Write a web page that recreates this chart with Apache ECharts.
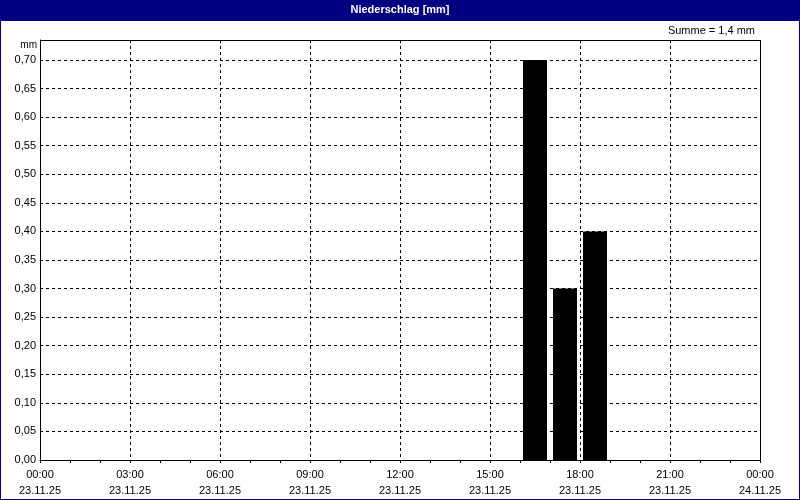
<!DOCTYPE html>
<html>
<head>
<meta charset="utf-8">
<script src="https://cdn.jsdelivr.net/npm/echarts@6/dist/echarts.min.js"></script>
<style>
html,body{margin:0;padding:0;background:#fff;}
#c{width:800px;height:500px;}
</style>
</head>
<body>
<div id="c"></div>
<script>
// Data
var barStartHours = [16, 17, 18];
var barValues = [0.70, 0.30, 0.40];
var xTickTimes = ['00:00', '03:00', '06:00', '09:00', '12:00', '15:00', '18:00', '21:00', '00:00'];
var xTickDates = ['23.11.25', '23.11.25', '23.11.25', '23.11.25', '23.11.25', '23.11.25', '23.11.25', '23.11.25', '24.11.25'];
var titleText = 'Niederschlag [mm]';
var sumText = 'Summe = 1,4 mm';
var unitText = 'mm';

var FONT = 'Liberation Sans';
var chart = echarts.init(document.getElementById('c'), null, {renderer: 'canvas'});
var barData = barStartHours.map(function (h, i) { return [h + 0.5, barValues[i]]; });

chart.setOption({
  animation: false,
  backgroundColor: '#fff',
  textStyle: {fontFamily: FONT},
  grid: {left: 40, right: 40, top: 40, bottom: 40, show: false},
  graphic: [
    {type: 'rect', shape: {x: 0, y: 0, width: 800, height: 21}, style: {fill: '#000080'}, z: 10},
    {type: 'rect', shape: {x: 0.5, y: 0.5, width: 799, height: 499}, style: {fill: 'none', stroke: '#000080', lineWidth: 1}, z: 10},
    {type: 'rect', shape: {x: 40.5, y: 40.5, width: 720, height: 420}, style: {fill: 'none', stroke: '#000', lineWidth: 1}, z: 100},
    {type: 'text', x: 400, y: 10, style: {text: titleText, fill: '#fff', font: 'bold 11px ' + FONT, align: 'center', verticalAlign: 'middle'}, z: 11},
    {type: 'text', x: 755, y: 31, style: {text: sumText, fill: '#000', font: '11px ' + FONT, align: 'right', verticalAlign: 'middle'}, z: 11},
    {type: 'text', x: 37, y: 45, style: {text: unitText, fill: '#000', font: '10px ' + FONT, align: 'right', verticalAlign: 'middle'}, z: 11}
  ],
  xAxis: {
    type: 'value', min: 0, max: 24, interval: 3,
    axisLine: {show: true, onZero: false, lineStyle: {color: '#000', width: 1}},
    axisTick: {show: true, length: 3, lineStyle: {color: '#000'}},
    minorTick: {show: true, splitNumber: 3, length: 3, lineStyle: {color: '#000'}},
    splitLine: {show: true, lineStyle: {color: '#000', type: [3, 3], width: 1}},
    axisLabel: {
      color: '#000', fontSize: 11, fontFamily: FONT, margin: 7, lineHeight: 16,
      formatter: function (v) { var i = Math.round(v / 3); return xTickTimes[i] + '\n' + xTickDates[i]; }
    }
  },
  yAxis: {
    type: 'value', min: 0, max: 0.735, interval: 0.05,
    axisLine: {show: true, lineStyle: {color: '#000', width: 1}},
    axisTick: {show: false},
    splitLine: {show: true, lineStyle: {color: '#000', type: [3, 3], width: 1}},
    axisLabel: {
      color: '#000', fontSize: 11, fontFamily: FONT, margin: 4,
      formatter: function (v) {
        var k = v * 20;
        if (Math.abs(k - Math.round(k)) > 1e-6) return '';
        return v.toFixed(2).replace('.', ',');
      }
    }
  },
  series: [{
    type: 'bar', data: barData, barWidth: 24,
    itemStyle: {color: '#000'}
  }]
});
</script>
</body>
</html>
